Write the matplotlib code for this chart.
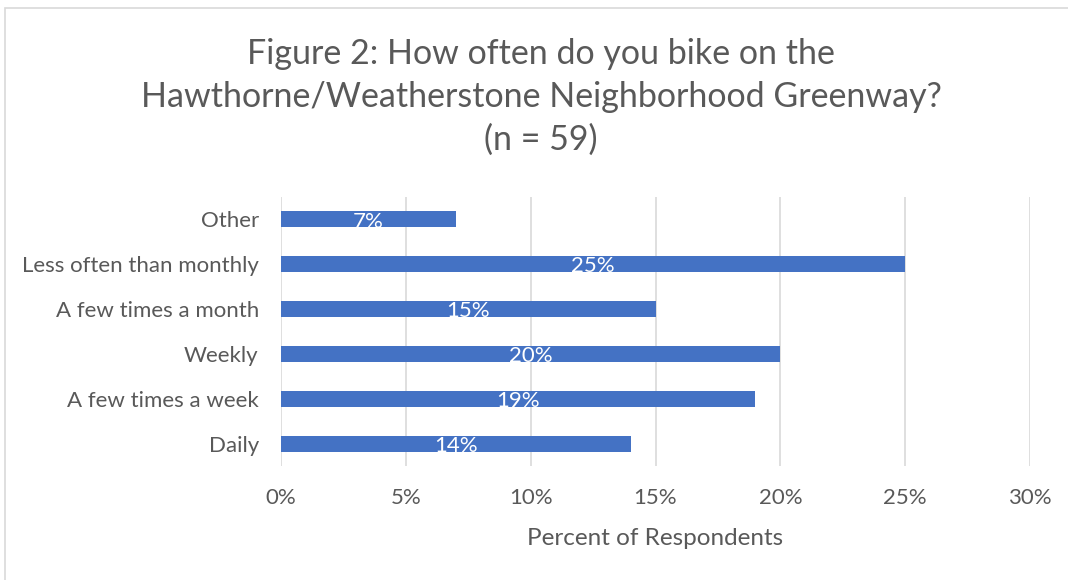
import matplotlib.pyplot as plt
from matplotlib.patches import Rectangle
from matplotlib.ticker import PercentFormatter

categories = ["Daily", "A few times a week", "Weekly", "A few times a month",
              "Less often than monthly", "Other"]
percents = [14, 19, 20, 15, 25, 7]
x_ticks = [0, 5, 10, 15, 20, 25, 30]

BAR_COLOR = "#4472C4"
TEXT_COLOR = "#595959"
GRID_COLOR = "#D9D9D9"

plt.rcParams["font.family"] = ["Lato", "DejaVu Sans"]

W, H = 1068, 580
fig = plt.figure(figsize=(W / 100, H / 100), dpi=100)
ax = fig.add_axes([281 / W, 1 - 466 / H, (1030 - 281) / W, (466 - 197) / H])

# chart border, runs off the right and bottom edges
fig.patches.append(Rectangle((5 / W, -0.1), 1.2, 1 - 8 / H + 0.1,
                             transform=fig.transFigure, fill=False,
                             edgecolor=GRID_COLOR, linewidth=1.2))

ypos = range(len(categories))
bars = ax.barh(ypos, percents, height=0.36, color=BAR_COLOR, zorder=3)
for rect, v in zip(bars, percents):
    ax.text(rect.get_width() / 2, rect.get_y() + rect.get_height() / 2 - 0.05,
            f"{v}%", ha="center", va="center", color="white", fontsize=16,
            zorder=4)

ax.set_xlim(0, 30)
ax.set_ylim(-0.5, len(categories) - 0.5)
ax.set_xticks(x_ticks)
ax.xaxis.set_major_formatter(PercentFormatter(decimals=0))
ax.set_yticks(list(ypos))
ax.set_yticklabels(categories)
ax.tick_params(axis="both", length=0, colors=TEXT_COLOR, labelsize=16)
ax.tick_params(axis="x", pad=16)
ax.tick_params(axis="y", pad=16)
ax.grid(axis="x", color=GRID_COLOR, linewidth=1.2, zorder=0)
for s in ax.spines.values():
    s.set_visible(False)

ax.set_xlabel("Percent of Respondents", color=TEXT_COLOR, fontsize=17.5,
              labelpad=14)

fig.text(541 / W, 1 - 97 / H,
         "Figure 2: How often do you bike on the\n"
         "Hawthorne/Weatherstone Neighborhood Greenway?\n(n = 59)",
         ha="center", va="center", color=TEXT_COLOR, fontsize=24.5,
         linespacing=1.4)

fig.savefig("out.png", dpi=100)
